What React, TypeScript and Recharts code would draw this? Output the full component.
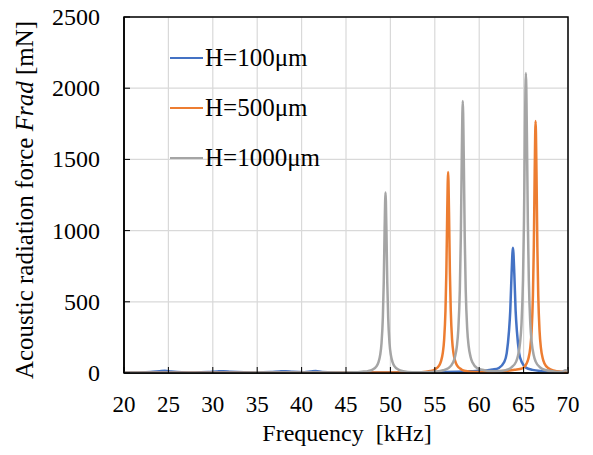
import { CartesianGrid, Legend, Line, LineChart, ReferenceArea, XAxis, YAxis } from "recharts";

const FONT = "'Liberation Serif', 'Times New Roman', serif";

const FREQ_TICKS = [20, 25, 30, 35, 40, 45, 50, 55, 60, 65, 70];
const FORCE_TICKS = [0, 500, 1000, 1500, 2000, 2500];

// H = 100 um
const H100_FREQ = [20, 21.5, 23, 24, 24.6, 25.3, 26.5, 28, 29.5, 30.5, 31.2, 32, 33.5, 35, 36.5, 37.5, 38.2, 39, 40.3, 41, 41.6, 42.3, 44, 46, 48, 50, 52, 54, 56, 57.5, 59, 60.5, 61.5, 62.2, 62.8, 63.1, 63.35, 63.5, 63.65, 63.8, 63.95, 64.1, 64.25, 64.5, 64.8, 65.3, 66, 67, 68.5, 70];
const H100_VAL = [3, 4, 7, 12, 15, 11, 6, 4, 7, 11, 13, 9, 5, 4, 7, 11, 13, 8, 6, 10, 14, 7, 4, 3, 3, 4, 4, 5, 7, 9, 12, 17, 24, 35, 75, 140, 290, 440, 704, 880, 704, 440, 290, 140, 75, 36, 22, 13, 8, 6];

// H = 500 um
const H500_FREQ = [20, 30, 40, 45, 50, 52, 53.5, 54.5, 55, 55.5, 55.7, 55.9, 56.05, 56.2, 56.3, 56.4, 56.5, 56.6, 56.7, 56.8, 56.95, 57.1, 57.3, 57.5, 58, 58.5, 59.5, 60.5, 61.5, 63, 64, 64.85, 65.35, 65.55, 65.75, 65.9, 66.05, 66.15, 66.25, 66.35, 66.45, 66.55, 66.65, 66.8, 66.95, 67.15, 67.35, 67.85, 68.35, 69.3, 70];
const H500_VAL = [1, 1, 2, 3, 4, 5, 6, 14, 25, 53, 83, 141, 233, 435, 706, 1130, 1412, 1130, 706, 435, 233, 141, 83, 53, 25, 14, 7, 6, 9, 15, 23, 33, 68, 104, 177, 292, 545, 884, 1415, 1769, 1415, 884, 545, 292, 177, 104, 67, 31, 18, 9, 7];

// H = 1000 um
const H1000_FREQ = [20, 25, 30, 35, 40, 44, 46, 47, 47.45, 47.95, 48.45, 48.65, 48.85, 49, 49.15, 49.25, 49.35, 49.45, 49.55, 49.65, 49.75, 49.9, 50.05, 50.25, 50.45, 50.95, 51.45, 52.45, 54, 54.85, 55.95, 56.5, 57.05, 57.27, 57.49, 57.65, 57.82, 57.93, 58.04, 58.15, 58.26, 58.37, 58.48, 58.65, 58.81, 59.03, 59.25, 59.8, 60.35, 61.5, 62.5, 63, 63.6, 64.16, 64.38, 64.6, 64.76, 64.93, 65.04, 65.15, 65.26, 65.37, 65.48, 65.59, 65.76, 65.92, 66.14, 66.36, 66.91, 67.46, 68.56, 69.3, 69.7, 70];
const H1000_VAL = [3, 2, 2, 3, 3, 4, 5, 10, 13, 22, 48, 75, 127, 209, 390, 634, 1014, 1267, 1014, 634, 390, 209, 127, 75, 48, 22, 13, 6, 6, 8, 19, 33, 73, 113, 191, 309, 588, 955, 1528, 1910, 1528, 955, 588, 309, 191, 113, 73, 33, 23, 12, 14, 20, 38, 80, 124, 211, 341, 649, 1053, 1685, 2106, 1685, 1053, 649, 341, 211, 124, 80, 37, 21, 9, 6, 20, 12];

const SERIES = [
  { name: "H=100μm", color: "#4472C4", freq: H100_FREQ, val: H100_VAL },
  { name: "H=500μm", color: "#ED7D31", freq: H500_FREQ, val: H500_VAL },
  { name: "H=1000μm", color: "#A5A5A5", freq: H1000_FREQ, val: H1000_VAL },
];

function toPoints(freq: number[], val: number[]) {
  return freq.map((f, i) => ({ f, v: val[i] }));
}

function FreqTick({ x, y, payload }: any) {
  return (
    <g>
      <line x1={x} y1={y} x2={x} y2={y - 6} stroke="#000" strokeWidth={1} />
      <text x={x} y={y + 39} textAnchor="middle" fontFamily={FONT} fontSize={23} fill="#000">
        {payload.value}
      </text>
    </g>
  );
}

function ForceTick({ x, y, payload }: any) {
  return (
    <g>
      <line x1={x} y1={y} x2={x + 6} y2={y} stroke="#000" strokeWidth={1} />
      <text x={x - 24} y={y + 8} textAnchor="end" fontFamily={FONT} fontSize={24} fill="#000">
        {payload.value}
      </text>
    </g>
  );
}

function XTitle() {
  return (
    <text x={347} y={441} textAnchor="middle" fontFamily={FONT} fontSize={24} fill="#000" style={{ whiteSpace: "pre" }}>
      Frequency  [kHz]
    </text>
  );
}

function YTitle() {
  return (
    <text
      transform="translate(33, 200) rotate(-90)"
      textAnchor="middle"
      fontFamily={FONT}
      fontSize={25}
      fill="#000"
    >
      Acoustic radiation force <tspan fontStyle="italic">Frad</tspan> [mN]
    </text>
  );
}

function LegendBox() {
  return (
    <div style={{ fontFamily: FONT, fontSize: 25, color: "#000" }}>
      {SERIES.map((s) => (
        <div key={s.name} style={{ display: "flex", alignItems: "center", height: 50 }}>
          <span style={{ display: "inline-block", width: 33, height: 0, borderTop: `2.5px solid ${s.color}`, marginRight: 2 }} />
          <span>{s.name}</span>
        </div>
      ))}
    </div>
  );
}

export default function App() {
  return (
    <div style={{ position: "absolute", left: 0, top: 0, background: "#fff" }}>
      <LineChart width={593} height={455} margin={{ top: 17, right: 25, left: 0, bottom: 0 }}>
        <CartesianGrid stroke="#d9d9d9" strokeWidth={1.2} />
        <XAxis
          dataKey="f"
          type="number"
          domain={[20, 70]}
          ticks={FREQ_TICKS}
          interval={0}
          allowDataOverflow
          height={82}
          tickSize={0}
          tickMargin={0}
          tickLine={false}
          axisLine={{ stroke: "#000", strokeWidth: 1.5 }}
          tick={<FreqTick />}
          label={<XTitle />}
        />
        <YAxis
          type="number"
          domain={[0, 2500]}
          ticks={FORCE_TICKS}
          interval={0}
          allowDataOverflow
          width={124}
          tickSize={0}
          tickMargin={0}
          tickLine={false}
          axisLine={{ stroke: "#000", strokeWidth: 1.5 }}
          tick={<ForceTick />}
          label={<YTitle />}
        />
        <Legend
          layout="vertical"
          align="center"
          verticalAlign="middle"
          content={<LegendBox />}
          wrapperStyle={{ top: 33, left: 170, width: 220 }}
        />
        {SERIES.map((s) => (
          <Line
            key={s.name}
            data={toPoints(s.freq, s.val)}
            dataKey="v"
            name={s.name}
            type="monotone"
            stroke={s.color}
            strokeWidth={2.5}
            dot={false}
            activeDot={false}
            isAnimationActive={false}
          />
        ))}
        <ReferenceArea x1={20} x2={70} y1={0} y2={2500} fill="none" stroke="#000" strokeWidth={1.5} />
      </LineChart>
    </div>
  );
}
